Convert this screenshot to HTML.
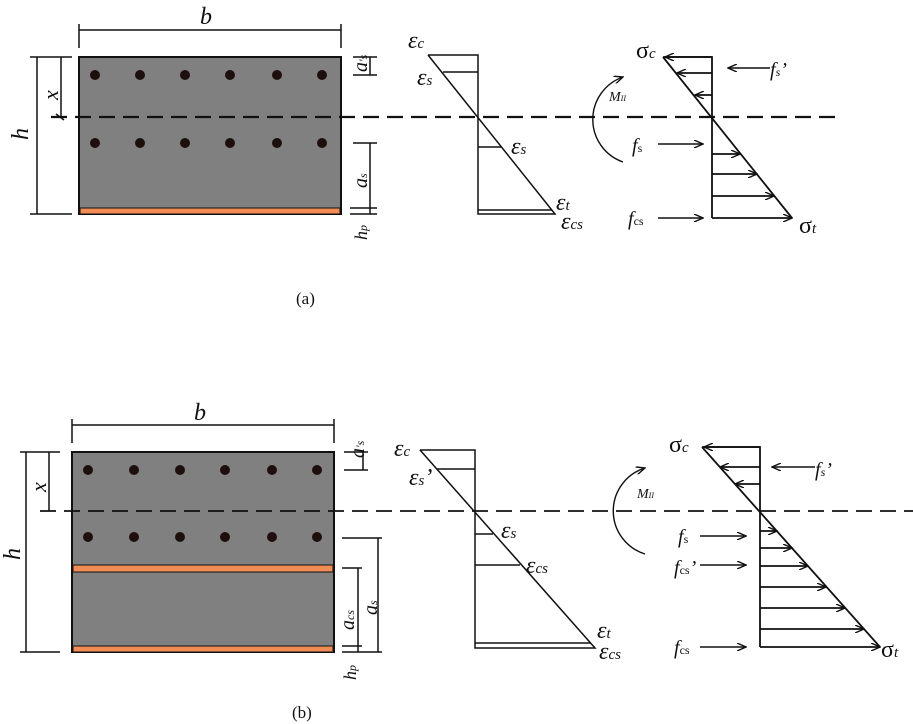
<!DOCTYPE html>
<html><head><style>body{margin:0;background:#fff}svg{display:block}
text{font-family:"Liberation Serif",serif;fill:#111}
.it{font-style:italic}</style></head><body>
<svg width="913" height="724" viewBox="0 0 913 724" xmlns="http://www.w3.org/2000/svg">
<defs>
<marker id="ar" markerWidth="10" markerHeight="8" refX="9" refY="4" orient="auto" markerUnits="userSpaceOnUse"><path d="M0,0 L9,4 L0,8" fill="none" stroke="#111" stroke-width="1.4"/></marker>
</defs>
<g stroke="#111" fill="none" stroke-width="1.5">
<!-- (a) section -->
<rect x="79" y="57" width="262" height="157" fill="#808080" stroke="#111" stroke-width="2"/>
<rect x="80" y="208" width="260" height="6" fill="#f28c55" stroke="#111" stroke-width="1"/>
<line x1="79" y1="30" x2="341" y2="30"/><line x1="79" y1="24" x2="79" y2="48"/><line x1="341" y1="24" x2="341" y2="48"/>
<line x1="37" y1="57" x2="37" y2="214"/><line x1="30" y1="57" x2="72" y2="57"/><line x1="30" y1="214" x2="72" y2="214"/>
<line x1="61" y1="57" x2="61" y2="117"/><line x1="56" y1="114" x2="64" y2="120"/>
<line x1="353" y1="57" x2="377" y2="57"/><line x1="353" y1="75" x2="377" y2="75"/><line x1="370" y1="57" x2="370" y2="75"/>
<line x1="353" y1="143" x2="377" y2="143"/><line x1="370" y1="143" x2="370" y2="214"/><line x1="350" y1="214" x2="377" y2="214"/><line x1="350" y1="208" x2="377" y2="208"/>
<line x1="51" y1="117" x2="835" y2="117" stroke-width="2.2" stroke-dasharray="16,8"/>
<!-- strain a -->
<polyline points="428,55 478,55 478,214 555,214 428,55"/>
<line x1="443" y1="72" x2="478" y2="72"/><line x1="478" y1="147" x2="501" y2="147"/><line x1="478" y1="210" x2="552" y2="210"/>
<!-- stress a -->
<polyline points="663,57 712,57 712,218" stroke-width="1.8"/><line x1="663" y1="57" x2="792" y2="218" stroke-width="1.8"/>
<g stroke-width="1.7" marker-end="url(#ar)">
<line x1="712" y1="57" x2="665" y2="57"/><line x1="712" y1="73" x2="677" y2="73"/><line x1="712" y1="95" x2="695" y2="95"/>
<line x1="712" y1="154" x2="740" y2="154"/><line x1="712" y1="174" x2="757" y2="174"/><line x1="712" y1="196" x2="774" y2="196"/><line x1="712" y1="218" x2="792" y2="218"/>
<line x1="770" y1="68" x2="728" y2="68" stroke-width="1.4"/><line x1="658" y1="144" x2="703" y2="144" stroke-width="1.4"/><line x1="658" y1="218" x2="703" y2="218" stroke-width="1.4"/>
<path d="M623,162 A45,45 0 0 1 623,77" stroke-width="1.4"/>
</g>
<!-- (b) section -->
<rect x="72" y="452" width="262" height="200" fill="#808080" stroke="#111" stroke-width="2"/>
<rect x="73" y="565" width="260" height="7" fill="#f28c55" stroke="#111" stroke-width="1"/>
<rect x="73" y="646" width="260" height="6" fill="#f28c55" stroke="#111" stroke-width="1"/>
<line x1="72" y1="425" x2="334" y2="425"/><line x1="72" y1="419" x2="72" y2="443"/><line x1="334" y1="419" x2="334" y2="443"/>
<line x1="26" y1="452" x2="26" y2="652"/><line x1="20" y1="452" x2="60" y2="452"/><line x1="20" y1="652" x2="60" y2="652"/>
<line x1="49" y1="452" x2="49" y2="511"/>
<line x1="344" y1="452" x2="368" y2="452"/><line x1="344" y1="470" x2="368" y2="470"/><line x1="363" y1="452" x2="363" y2="470"/>
<line x1="342" y1="538" x2="382" y2="538"/><line x1="378" y1="538" x2="378" y2="652"/><line x1="342" y1="568" x2="362" y2="568"/><line x1="358" y1="568" x2="358" y2="652"/><line x1="342" y1="652" x2="382" y2="652"/><line x1="342" y1="646" x2="362" y2="646"/>
<line x1="40" y1="511" x2="913" y2="511" stroke-width="1.8" stroke-dasharray="16,8"/>
<!-- strain b -->
<polyline points="420,450 475,450 475,648 595,648 420,450"/>
<line x1="437" y1="469" x2="475" y2="469"/><line x1="475" y1="534" x2="493" y2="534"/><line x1="475" y1="565" x2="520" y2="565"/><line x1="475" y1="643" x2="590" y2="643"/>
<!-- stress b -->
<polyline points="702,447 760,447 760,647" stroke-width="1.8"/><line x1="702" y1="447" x2="880" y2="647" stroke-width="1.8"/>
<g stroke-width="1.7" marker-end="url(#ar)">
<line x1="760" y1="447" x2="704" y2="447"/><line x1="760" y1="467" x2="720" y2="467"/><line x1="760" y1="484" x2="735" y2="484"/>
<line x1="760" y1="531" x2="777" y2="531"/><line x1="760" y1="548" x2="792" y2="548"/><line x1="760" y1="566" x2="808" y2="566"/><line x1="760" y1="587" x2="826" y2="587"/><line x1="760" y1="608" x2="845" y2="608"/><line x1="760" y1="629" x2="864" y2="629"/><line x1="760" y1="647" x2="880" y2="647"/>
<line x1="815" y1="467" x2="772" y2="467" stroke-width="1.4"/><line x1="700" y1="536" x2="746" y2="536" stroke-width="1.4"/><line x1="700" y1="565" x2="746" y2="565" stroke-width="1.4"/><line x1="700" y1="647" x2="746" y2="647" stroke-width="1.4"/>
<path d="M645,554 A45,45 0 0 1 645,468" stroke-width="1.4"/>
</g>
</g>
<g fill="#1e0f0f">
<circle cx="95" cy="75" r="5"/><circle cx="140" cy="75" r="5"/><circle cx="185" cy="75" r="5"/><circle cx="230" cy="75" r="5"/><circle cx="277" cy="75" r="5"/><circle cx="322" cy="75" r="5"/>
<circle cx="95" cy="143" r="5"/><circle cx="140" cy="143" r="5"/><circle cx="185" cy="143" r="5"/><circle cx="230" cy="143" r="5"/><circle cx="277" cy="143" r="5"/><circle cx="322" cy="143" r="5"/>
<circle cx="88" cy="470" r="5"/><circle cx="134" cy="470" r="5"/><circle cx="180" cy="470" r="5"/><circle cx="225" cy="470" r="5"/><circle cx="272" cy="470" r="5"/><circle cx="317" cy="470" r="5"/>
<circle cx="88" cy="537" r="5"/><circle cx="134" cy="537" r="5"/><circle cx="180" cy="537" r="5"/><circle cx="225" cy="537" r="5"/><circle cx="272" cy="537" r="5"/><circle cx="317" cy="537" r="5"/>
</g>
<!-- labels (a) -->
<text class="it" x="200" y="24" font-size="24">b</text>
<text class="it" font-size="24" transform="translate(28,140) rotate(-90)">h</text>
<text class="it" font-size="22" transform="translate(58,100) rotate(-90)">x</text>
<text class="it" font-size="20" transform="translate(367,72) rotate(-90)">a<tspan font-size="12">'s</tspan></text>
<text class="it" font-size="20" transform="translate(367,188) rotate(-90)">a<tspan font-size="12">s</tspan></text>
<text class="it" font-size="18" transform="translate(367,240) rotate(-90)">h<tspan font-size="12">p</tspan></text>
<text class="it" x="408" y="48" font-size="24">ε<tspan font-size="15">c</tspan></text>
<text class="it" x="417" y="85" font-size="24">ε<tspan font-size="15">s</tspan></text>
<text class="it" x="511" y="154" font-size="24">ε<tspan font-size="15">s</tspan></text>
<text class="it" x="556" y="210" font-size="24">ε<tspan font-size="15">t</tspan></text>
<text class="it" x="561" y="229" font-size="24">ε<tspan font-size="15">cs</tspan></text>
<text x="636" y="58" font-size="24">σ<tspan class="it" font-size="15">c</tspan></text>
<text x="799" y="233" font-size="24">σ<tspan class="it" font-size="15">t</tspan></text>
<text class="it" x="609" y="101" font-size="14">M<tspan font-size="8">II</tspan></text>
<text class="it" x="770" y="76" font-size="20">f<tspan font-size="12">s</tspan>’</text>
<text class="it" x="632" y="152" font-size="20">f<tspan font-style="normal" font-size="12">s</tspan></text>
<text class="it" x="628" y="225" font-size="20">f<tspan font-style="normal" font-size="12">cs</tspan></text>
<text x="296" y="304" font-size="17">(a)</text>
<!-- labels (b) -->
<text class="it" x="194" y="420" font-size="24">b</text>
<text class="it" font-size="24" transform="translate(20,560) rotate(-90)">h</text>
<text class="it" font-size="22" transform="translate(46,492) rotate(-90)">x</text>
<text class="it" font-size="20" transform="translate(364,458) rotate(-90)">a<tspan font-size="12">'s</tspan></text>
<text class="it" font-size="20" transform="translate(377,615) rotate(-90)">a<tspan font-size="12">s</tspan></text>
<text class="it" font-size="20" transform="translate(354,630) rotate(-90)">a<tspan font-size="12">cs</tspan></text>
<text class="it" font-size="18" transform="translate(356,680) rotate(-90)">h<tspan font-size="12">p</tspan></text>
<text class="it" x="394" y="456" font-size="24">ε<tspan font-size="15">c</tspan></text>
<text class="it" x="409" y="485" font-size="24">ε<tspan font-size="15">s</tspan>’</text>
<text class="it" x="501" y="538" font-size="24">ε<tspan font-size="15">s</tspan></text>
<text class="it" x="526" y="573" font-size="24">ε<tspan font-size="15">cs</tspan></text>
<text class="it" x="597" y="638" font-size="24">ε<tspan font-size="15">t</tspan></text>
<text class="it" x="599" y="659" font-size="24">ε<tspan font-size="15">cs</tspan></text>
<text x="669" y="452" font-size="24">σ<tspan class="it" font-size="15">c</tspan></text>
<text x="881" y="657" font-size="24">σ<tspan class="it" font-size="15">t</tspan></text>
<text class="it" x="637" y="498" font-size="14">M<tspan font-size="8">II</tspan></text>
<text class="it" x="815" y="476" font-size="20">f<tspan font-size="12">s</tspan>’</text>
<text class="it" x="678" y="543" font-size="20">f<tspan font-style="normal" font-size="12">s</tspan></text>
<text class="it" x="674" y="574" font-size="20">f<tspan font-style="normal" font-size="12">cs</tspan>’</text>
<text class="it" x="674" y="654" font-size="20">f<tspan font-style="normal" font-size="12">cs</tspan></text>
<text x="292" y="718" font-size="17">(b)</text>
</svg>
</body></html>
